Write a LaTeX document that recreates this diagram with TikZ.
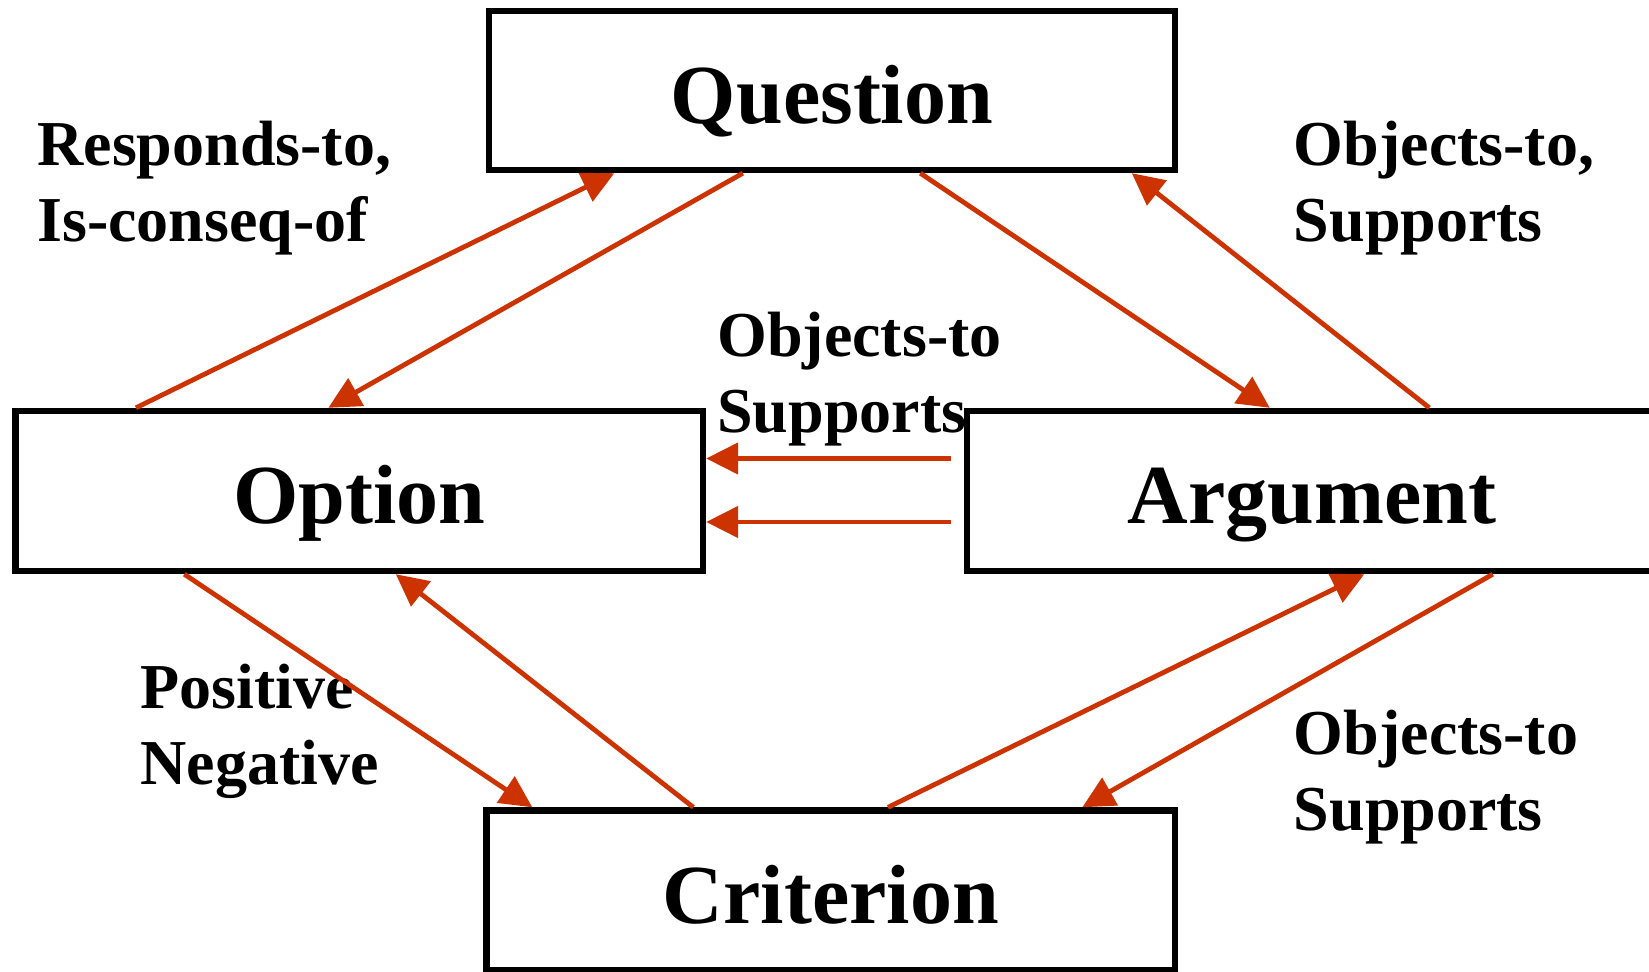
\documentclass[tikz,border=0pt]{standalone}
\usepackage{fontspec}
\setmainfont{Liberation Serif}
\usetikzlibrary{arrows.meta,calc}
\definecolor{arrowred}{RGB}{204,51,0}
\begin{document}
\begin{tikzpicture}[x=0.5pt,y=-0.5pt,
  box/.style={draw,line width=3.2pt,inner sep=0pt,text height=38.6pt,text depth=6pt,font=\bfseries\fontsize{42}{48}\selectfont},
  lab/.style={anchor=north west,inner sep=0pt,align=left,font=\bfseries\fontsize{32}{38}\selectfont},
  arr/.style={draw=arrowred,line width=2.4pt,-{Triangle[length=16pt,width=15.5pt]}}]
\useasboundingbox (0,0) rectangle (1649,972);
\node[box,minimum width=343pt,minimum height=79.5pt] (q) at (832,90.5) {Question};
\node[box,minimum width=343.75pt,minimum height=80pt] (opt) at (359.25,491) {Option};
\node[box,minimum width=345pt,minimum height=80pt] (arg) at (1312,491) {Argument};
\node[box,minimum width=344.25pt,minimum height=80pt] (crit) at (830.75,890.5) {Criterion};
% labels
\node[lab] (l1) at (37,121) {Responds-to,\\Is-conseq-of};
\node[lab] (l2) at (1293.5,121) {Objects-to,\\Supports};
\node[lab] (l3) at (717,312) {Objects-to\\Supports};
\node[lab] (l4) at (140,664) {Positive\\Negative};
\node[lab] (l5) at (1293.5,710) {Objects-to\\Supports};
% connectors
\draw[arr] ($(opt.north west)+(123.7,0)$) -- ($(q.south west)+(128.5,0)$);
\draw[arr] ($(q.south west)+(257,0)$) -- ($(opt.north west)+(316,0)$);
\draw[arr] ($(q.south west)+(434.5,0)$) -- ($(arg.north west)+(306,0)$);
\draw[arr] ($(arg.north west)+(465.5,0)$) -- ($(q.south west)+(646,0)$);
\draw[arr] ($(arg.west)+(-12.5,-32.5)$) -- ($(opt.east)+(0,-32.5)$);
\draw[arr] ($(arg.west)+(-12.5,31)$) -- ($(opt.east)+(0,31)$);
\draw[arr] ($(opt.south west)+(172,0)$) -- ($(crit.north west)+(49,0)$);
\draw[arr] ($(crit.north west)+(210,0)$) -- ($(opt.south west)+(383.5,0)$);
\draw[arr] ($(crit.north west)+(404.7,0)$) -- ($(arg.south west)+(400.5,0)$);
\draw[arr] ($(arg.south west)+(529,0)$) -- ($(crit.north west)+(599,0)$);
\end{tikzpicture}
\end{document}
